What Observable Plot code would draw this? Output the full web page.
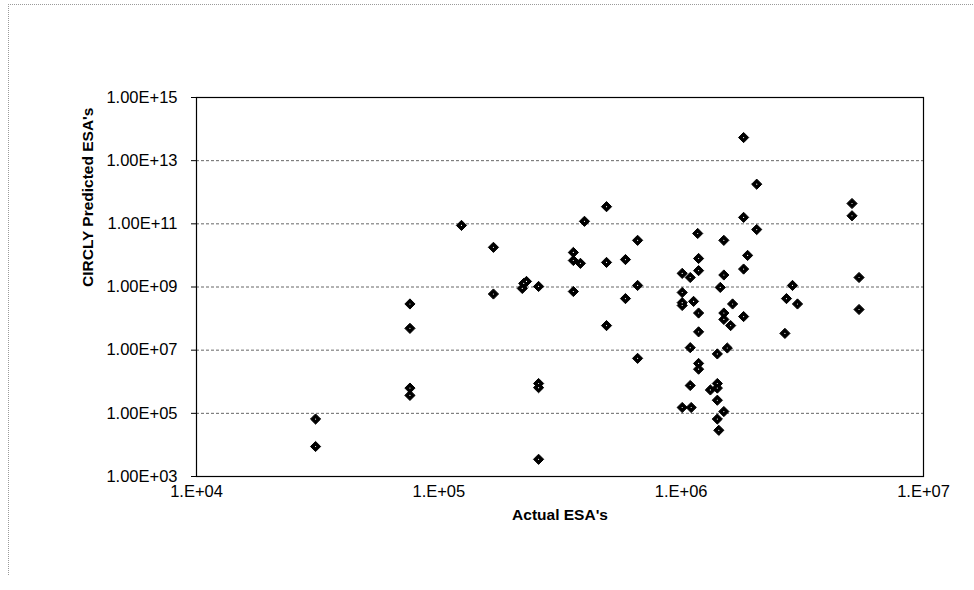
<!DOCTYPE html>
<html>
<head>
<meta charset="utf-8">
<script src="https://cdn.jsdelivr.net/npm/d3@7"></script>
<script src="https://cdn.jsdelivr.net/npm/@observablehq/plot@0.6"></script>
<style>
  html, body { margin: 0; padding: 0; background: #fff; }
  #wrap { position: relative; width: 974px; height: 590px; overflow: hidden; }
  #deco { position: absolute; left: 8px; top: 4px; width: 980px; height: 570px;
          border-left: 1px dotted #9a9a9a; border-top: 1px dotted #9a9a9a; pointer-events: none; }
</style>
</head>
<body>
<div id="wrap"><div id="deco"></div></div>
<script>
// Actual ESA's (x) and CIRCLY predicted ESA's (y)
const actualESA = [
  31000, 31000, 76000, 76000, 76000, 76000, 124000, 168000, 168000, 221000,
  224000, 230000, 258000, 258000, 258000, 258000, 359000, 359000, 384000, 359000,
  399000, 492000, 492000, 492000, 589000, 589000, 661000, 661000, 661000, 1010000,
  1010000, 1010000, 1010000, 1010000, 1090000, 1090000, 1090000, 1100000, 1125000, 1180000,
  1180000, 1180000, 1180000, 1180000, 1180000, 1170000, 1320000, 1410000, 1410000, 1410000,
  1410000, 1410000, 1430000, 1450000, 1500000, 1500000, 1500000, 1500000, 1500000, 1550000,
  1600000, 1630000, 1810000, 1810000, 1810000, 1810000, 1880000, 2050000, 2050000, 2720000,
  2680000, 2880000, 3020000, 5070000, 5070000, 5420000, 5420000
];
const predictedESA = [
  6.6e4, 8.9e3, 2.9e8, 4.9e7, 6.3e5, 3.7e5, 8.9e10, 1.8e10, 6.0e8, 9.0e8,
  1.3e9, 1.5e9, 1.04e9, 8.8e5, 6.5e5, 3.5e3, 1.24e10, 6.9e9, 5.6e9, 7.2e8,
  1.2e11, 3.5e11, 6.0e9, 6.0e7, 7.4e9, 4.3e8, 3.0e10, 1.12e9, 5.5e6, 2.7e9,
  6.7e8, 3.2e8, 2.6e8, 1.53e5, 2.0e9, 1.2e7, 7.6e5, 1.53e5, 3.5e8, 8.0e9,
  3.3e9, 1.5e8, 3.8e7, 3.8e6, 2.5e6, 4.95e10, 5.5e5, 7.6e6, 8.8e5, 6.3e5,
  2.6e5, 6.6e4, 2.9e4, 9.7e8, 3.0e10, 2.4e9, 1.5e8, 9.4e7, 1.14e5, 1.17e7,
  6.0e7, 2.9e8, 5.4e13, 1.6e11, 3.7e9, 1.16e8, 1.0e10, 1.8e12, 6.6e10, 4.3e8,
  3.4e7, 1.12e9, 2.9e8, 4.4e11, 1.8e11, 2.0e9, 1.94e8
];
const yTicks = [1e3, 1e5, 1e7, 1e9, 1e11, 1e13, 1e15];
const yTickLabels = ["1.00E+03", "1.00E+05", "1.00E+07", "1.00E+09", "1.00E+11", "1.00E+13", "1.00E+15"];
const gridTicks = [1e5, 1e7, 1e9, 1e11, 1e13];
const xTicks = [1e4, 1e5, 1e6, 1e7];
const xTickLabels = ["1.E+04", "1.E+05", "1.E+06", "1.E+07"];
const xTitle = "Actual ESA's";
const yTitle = "CIRCLY Predicted ESA's";

const points = actualESA.map((x, i) => ({x, y: predictedESA[i]}));

const chart = Plot.plot({
  width: 974,
  height: 590,
  marginLeft: 196,
  marginRight: 51,
  marginTop: 97,
  marginBottom: 114,
  style: {fontFamily: "'Liberation Sans', Arial, sans-serif", fontSize: "16px", color: "#000", background: "transparent"},
  x: {type: "log", domain: [1e4, 1e7]},
  y: {type: "log", domain: [1e3, 1e15]},
  marks: [
    Plot.ruleY(gridTicks, {stroke: "#333", strokeWidth: 1, strokeDasharray: "3,2", strokeOpacity: 0.75}),
    Plot.frame({stroke: "#000", strokeWidth: 1.2}),
    Plot.axisY({ticks: yTicks, tickFormat: d => yTickLabels[yTicks.indexOf(d)], tickSize: 5, tickPadding: 14, label: null, fontSize: 16.5}),
    Plot.axisX({ticks: xTicks, tickFormat: d => xTickLabels[xTicks.indexOf(d)], tickSize: 0, tickPadding: 9, label: null, fontSize: 16.5}),
    Plot.dot(points, {x: "x", y: "y", symbol: "diamond2", r: 4.6, fill: "#000", stroke: "#000", strokeWidth: 1}),
    Plot.dot(points, {x: "x", y: "y", r: 0.6, fill: "#fff"}),
    Plot.text([xTitle], {frameAnchor: "bottom", dy: 43, fontWeight: "bold", fontSize: 15.5}),
    Plot.text([yTitle], {frameAnchor: "left", dx: -108, rotate: -90, fontWeight: "bold", fontSize: 15.5})
  ]
});
chart.style.position = "absolute";
chart.style.left = "0px";
chart.style.top = "0px";
document.getElementById("wrap").appendChild(chart);
</script>
</body>
</html>
